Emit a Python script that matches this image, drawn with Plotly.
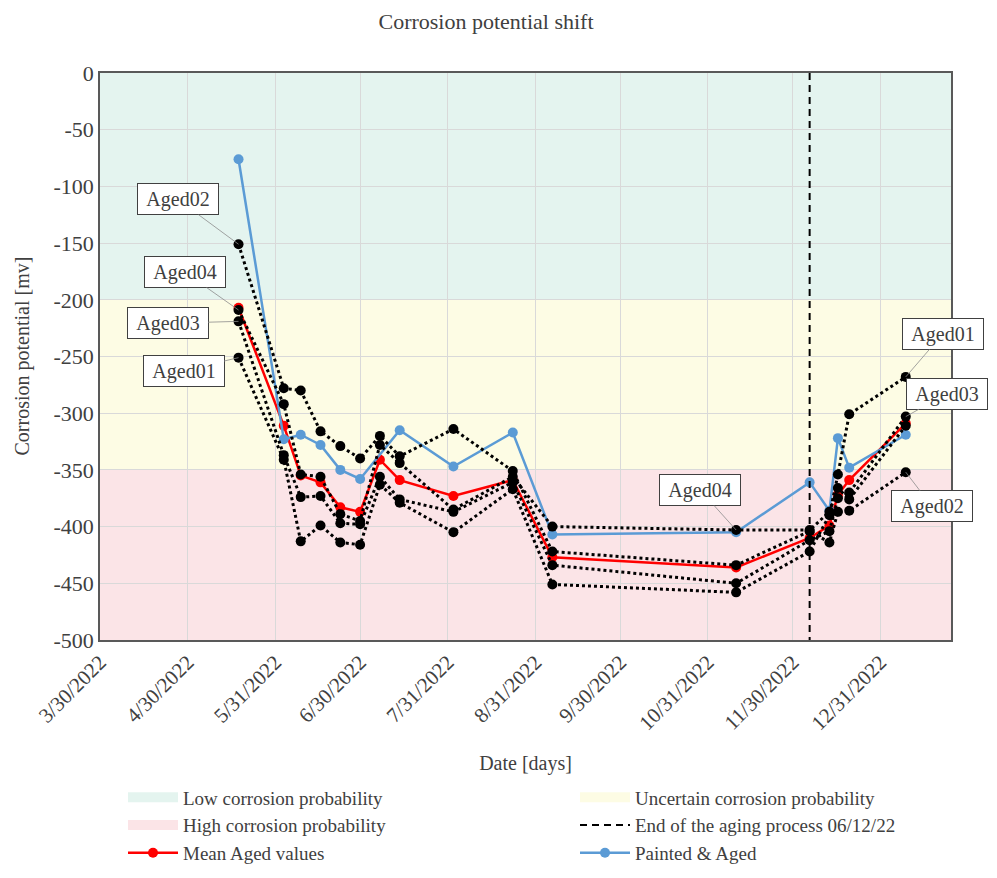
import plotly.graph_objects as go

# ---------------- data ----------------
dates = ["2022-05-18", "2022-06-03", "2022-06-09", "2022-06-16", "2022-06-23",
         "2022-06-30", "2022-07-07", "2022-07-14", "2022-08-02", "2022-08-23",
         "2022-09-06", "2022-11-10", "2022-12-06", "2022-12-13", "2022-12-16",
         "2022-12-20", "2023-01-09"]

aged01 = [-251, -341, -413, -399, -414, -416, -363, -379, -405, -367, -451, -458, -422, -390, -354, -301, -268]
aged02 = [-151, -278, -280, -316, -329, -340, -320, -338, -314, -351, -422, -434, -404, -414, -387, -386, -352]
aged03 = [-219, -337, -374, -373, -397, -398, -356, -376, -387, -361, -434, -450, -412, -404, -375, -370, -303]
aged04 = [-209, -292, -354, -356, -389, -395, -328, -344, -385, -356, -400, -403, -403, -387, -366, -376, -311]

mean_aged = [-207, -311, -355, -361, -383, -387, -341, -359, -373, -359, -427, -436, -410, -399, -372, -359, -309]

painted_dates = ["2022-05-18", "2022-06-03", "2022-06-09", "2022-06-16", "2022-06-23",
                 "2022-06-30", "2022-07-14", "2022-08-02", "2022-08-23", "2022-09-06",
                 "2022-11-10", "2022-12-06", "2022-12-13", "2022-12-16", "2022-12-20",
                 "2023-01-09"]
painted = [-76, -323, -319, -328, -350, -358, -315, -347, -317, -407, -405, -361, -386, -322, -348, -319]

aging_end_date = "2022-12-06"

band_names = ["Low corrosion probability", "Uncertain corrosion probability", "High corrosion probability"]
band_top = [0, -200, -350]
band_bottom = [-200, -350, -500]
band_colors = ["rgb(228,244,239)", "rgb(253,252,228)", "rgb(251,228,231)"]
band_legend = ["legend", "legend2", "legend"]

x_tickvals = ["2022-03-30", "2022-04-30", "2022-05-31", "2022-06-30", "2022-07-31",
              "2022-08-31", "2022-09-30", "2022-10-31", "2022-11-30", "2022-12-31"]
x_ticktext = ["3/30/2022", "4/30/2022", "5/31/2022", "6/30/2022", "7/31/2022",
              "8/31/2022", "9/30/2022", "10/31/2022", "11/30/2022", "12/31/2022"]
y_tickvals = [0, -50, -100, -150, -200, -250, -300, -350, -400, -450, -500]
y_ticktext = ["0", "-50", "-100", "-150", "-200", "-250", "-300", "-350", "-400", "-450", "-500"]

# ---------------- figure ----------------
FONT = "Liberation Serif"
TXT = "#404040"
W, H = 989, 870   # page body has an 8px margin

fig = go.Figure()

for i, (nm, col) in enumerate(zip(band_names, band_colors)):
    fig.add_trace(go.Scatter(x=[None], y=[None], mode="lines",
                             line=dict(width=12, color=col),
                             name=nm, legend=band_legend[i], legendrank=i + 1))
    fig.add_shape(type="rect", xref="paper", x0=0, x1=1, yref="y",
                  y0=band_bottom[i], y1=band_top[i], fillcolor=col,
                  line=dict(width=0), layer="below")

fig.add_trace(go.Scatter(x=dates, y=mean_aged, mode="lines+markers", name="Mean Aged values",
                         line=dict(color="#ff0000", width=2.5),
                         marker=dict(color="#ff0000", size=10), legend="legend", legendrank=5))
fig.add_trace(go.Scatter(x=painted_dates, y=painted, mode="lines+markers", name="Painted & Aged",
                         line=dict(color="#5b9bd5", width=2.5),
                         marker=dict(color="#5b9bd5", size=10), legend="legend2", legendrank=6))

for nm, ser in [("Aged01", aged01), ("Aged02", aged02), ("Aged03", aged03), ("Aged04", aged04)]:
    fig.add_trace(go.Scatter(x=dates, y=ser, mode="lines+markers", name=nm, showlegend=False,
                             line=dict(color="black", width=3, dash="dot"),
                             marker=dict(color="black", size=10)))

fig.add_trace(go.Scatter(x=[aging_end_date, aging_end_date], y=[band_top[0], band_bottom[-1]],
                         mode="lines", name="End of the aging process 06/12/22",
                         line=dict(color="black", width=2, dash="7px,5px"),
                         legend="legend2", legendrank=4))

def lab(text, x, y, ax, ay):
    fig.add_annotation(x=x, y=y, text=text, ax=ax, ay=ay, showarrow=True, arrowhead=0,
                       arrowwidth=0.8, arrowcolor="#8c8c8c", bgcolor="white",
                       bordercolor="#404040", borderwidth=1, borderpad=2,
                       width=76, height=26,
                       font=dict(family=FONT, size=20, color=TXT))

lab("Aged02", dates[0], aged02[0], -61, -45)
lab("Aged04", dates[0], aged04[0], -54, -38)
lab("Aged03", dates[0], aged03[0], -71, 2)
lab("Aged01", dates[0], aged01[0], -55, 13)
lab("Aged04", dates[11], aged04[11], -36, -40)
lab("Aged01", dates[-1], aged01[-1], 37, -43)
lab("Aged03", dates[-1], aged03[-1], 41, -23)
lab("Aged02", dates[-1], aged02[-1], 26, 34)

# y-axis title as rotated text
fig.add_annotation(text="Corrosion potential [mv]", xref="paper", yref="paper",
                   x=(14 - 92) / (W - 92 - 46), y=0.5, xanchor="center", yanchor="middle",
                   textangle=-90, showarrow=False,
                   font=dict(family=FONT, size=20, color=TXT))

leg_common = dict(orientation="v", yref="container", xref="container", xanchor="left",
                  yanchor="top", itemwidth=50, tracegroupgap=0, bgcolor="rgba(0,0,0,0)",
                  font=dict(family=FONT, size=19, color=TXT), traceorder="normal")

fig.update_layout(
    width=W, height=H,
    margin=dict(l=92, r=46, t=65, b=238, autoexpand=False),
    paper_bgcolor="white", plot_bgcolor="white",
    font=dict(family=FONT, size=20, color=TXT),
    title=dict(text="Corrosion potential shift", font=dict(family=FONT, size=22, color=TXT),
               x=478 / W, xref="container", xanchor="center", y=1 - 13 / H, yref="container",
               yanchor="middle"),
    xaxis=dict(type="date", range=["2022-03-30", "2023-01-25"], tickvals=x_tickvals,
               ticktext=x_ticktext, tickangle=-45, showgrid=True, gridcolor="#d9d9d9",
               gridwidth=1, showline=True, linecolor="#595959", linewidth=1.5, mirror=True,
               ticks="", zeroline=False, automargin=True,
               tickfont=dict(family=FONT, size=21, color=TXT),
               title=dict(text="Date [days]", font=dict(family=FONT, size=20, color=TXT), standoff=22)),
    yaxis=dict(range=[-500, 0], tickvals=y_tickvals, ticktext=y_ticktext, showgrid=True,
               gridcolor="#d9d9d9", gridwidth=1, showline=True, linecolor="#595959", linewidth=1.5,
               mirror=True, ticks="", zeroline=False, automargin=False,
               tickfont=dict(family=FONT, size=22, color=TXT)),
    legend=dict(x=115 / W, y=1 - 770.5 / H, **leg_common),
    legend2=dict(x=567 / W, y=1 - 770.5 / H, **leg_common),
    showlegend=True,
)

fig.write_html("out.html")
